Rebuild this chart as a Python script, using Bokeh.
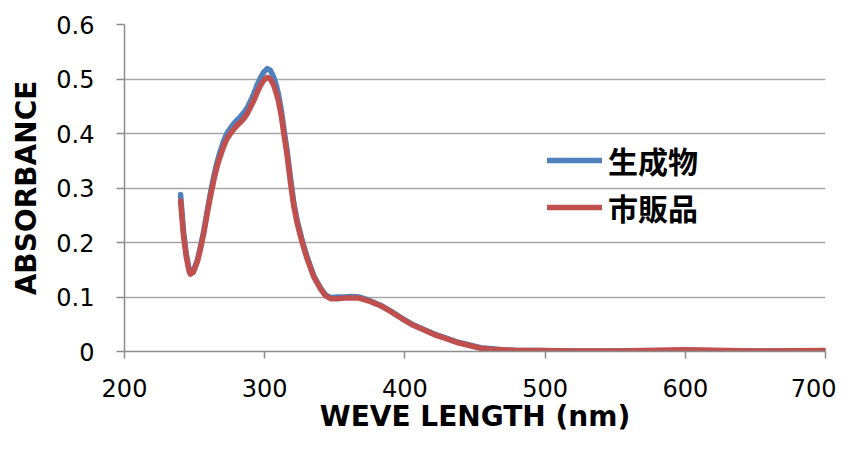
from bokeh.plotting import figure
from bokeh.embed import file_html
from bokeh.resources import INLINE
from bokeh.models import FixedTicker, CustomJSTickFormatter, Legend, LegendItem, Range1d

wavelength = [240, 241, 242, 244, 246, 247, 249, 252, 254, 256.6, 259, 261.4, 264, 266, 268, 270.7,
              273, 275.6, 278, 280.4, 283, 285, 287.5, 290, 292.5, 294.6, 297, 299.4, 301.8, 304,
              306.5, 308.5, 310, 312, 313.6, 316, 318.4, 320.8, 323.2, 326.7, 330.3, 335, 339.8,
              343.4, 347, 352, 357, 362, 367, 371, 376, 382.6, 390, 398, 406, 414, 422, 430, 438,
              446, 454, 462, 470, 480, 495, 520, 550, 600, 650, 700]

product_abs = [0.288, 0.255, 0.222, 0.18, 0.152, 0.144, 0.147, 0.168, 0.19, 0.222, 0.258, 0.292,
               0.325, 0.347, 0.365, 0.386, 0.4, 0.41, 0.418, 0.425, 0.432, 0.438, 0.447, 0.46,
               0.475, 0.489, 0.502, 0.513, 0.519, 0.516, 0.503, 0.486, 0.47, 0.44, 0.41, 0.368,
               0.318, 0.272, 0.24, 0.204, 0.173, 0.139, 0.117, 0.104, 0.099, 0.1, 0.1, 0.101, 0.1,
               0.097, 0.092, 0.085, 0.074, 0.061, 0.049, 0.04, 0.031, 0.024, 0.017, 0.012, 0.007,
               0.005, 0.003, 0.002, 0.002, 0.001, 0.001, 0.002, 0.001, 0.001]

commercial_abs = [0.276, 0.246, 0.215, 0.175, 0.148, 0.142, 0.145, 0.165, 0.186, 0.218, 0.253,
                  0.286, 0.318, 0.339, 0.356, 0.376, 0.39, 0.4, 0.408, 0.415, 0.421, 0.427, 0.436,
                  0.449, 0.462, 0.475, 0.488, 0.498, 0.503, 0.5, 0.488, 0.472, 0.457, 0.43, 0.4,
                  0.36, 0.31, 0.266, 0.235, 0.2, 0.17, 0.137, 0.115, 0.102, 0.097, 0.097, 0.098,
                  0.098, 0.098, 0.095, 0.091, 0.084, 0.073, 0.06, 0.048, 0.039, 0.03, 0.023, 0.016,
                  0.011, 0.006, 0.004, 0.003, 0.002, 0.002, 0.001, 0.001, 0.003, 0.001, 0.002]

series_names = ["生成物", "市販品"]
x_ticks = [200, 300, 400, 500, 600, 700]
y_ticks = [0, 0.1, 0.2, 0.3, 0.4, 0.5, 0.6]

p = figure(width=836, height=435, output_backend="svg", toolbar_location=None,
           x_range=Range1d(200, 700), y_range=Range1d(0, 0.6),
           min_border_left=124, min_border_right=11, min_border_top=24, min_border_bottom=84)
p.outline_line_color = None
p.background_fill_color = "white"
p.border_fill_color = "white"

r1 = p.line(wavelength, product_abs, line_color="#4F81BD", line_width=5.5, line_join="round", line_cap="round")
r2 = p.line(wavelength, commercial_abs, line_color="#C0504D", line_width=5.5, line_join="round", line_cap="round")

tick_font = "DejaVu Sans"
p.xaxis.ticker = FixedTicker(ticks=x_ticks)
p.yaxis.ticker = FixedTicker(ticks=y_ticks)
p.yaxis.formatter = CustomJSTickFormatter(code="return tick.toFixed(1).replace(/\\.0$/, '');")
for ax in (p.xaxis, p.yaxis):
    ax.axis_line_color = "#8C8C8C"
    ax.axis_line_width = 1.5
    ax.major_tick_line_color = "#8C8C8C"
    ax.major_tick_line_width = 1.5
    ax.major_tick_in = 0
    ax.major_tick_out = 8
    ax.minor_tick_line_color = None
    ax.major_label_text_font = tick_font
    ax.major_label_text_font_size = "24px"
    ax.major_label_text_color = "black"
    ax.axis_label_text_font = tick_font
    ax.axis_label_text_font_size = "28px"
    ax.axis_label_text_font_style = "bold"
    ax.axis_label_text_color = "black"
p.xaxis.major_tick_out = 7
p.yaxis.major_label_standoff = 22
p.xaxis.major_label_standoff = 20
p.yaxis.axis_label = "ABSORBANCE"
p.xaxis.axis_label = "WEVE LENGTH (nm)"
p.yaxis.axis_label_standoff = 10
p.xaxis.axis_label_standoff = 0

p.xgrid.grid_line_color = None
p.ygrid.grid_line_color = "#A6A6A6"
p.ygrid.grid_line_width = 1.5

legend = Legend(items=[LegendItem(label=series_names[0], renderers=[r1]),
                       LegendItem(label=series_names[1], renderers=[r2])],
                location=(423, 122), orientation="vertical")
legend.border_line_color = None
legend.background_fill_alpha = 0
legend.padding = 0
legend.margin = 0
legend.spacing = 3
legend.glyph_width = 55
legend.glyph_height = 40
legend.label_height = 40
legend.label_standoff = 6
legend.label_text_font = "Noto Sans CJK JP"
legend.label_text_font_size = "30px"
legend.label_text_font_style = "bold"
legend.label_text_color = "black"
p.add_layout(legend)

open("out.html", "w").write(file_html(p, INLINE))
